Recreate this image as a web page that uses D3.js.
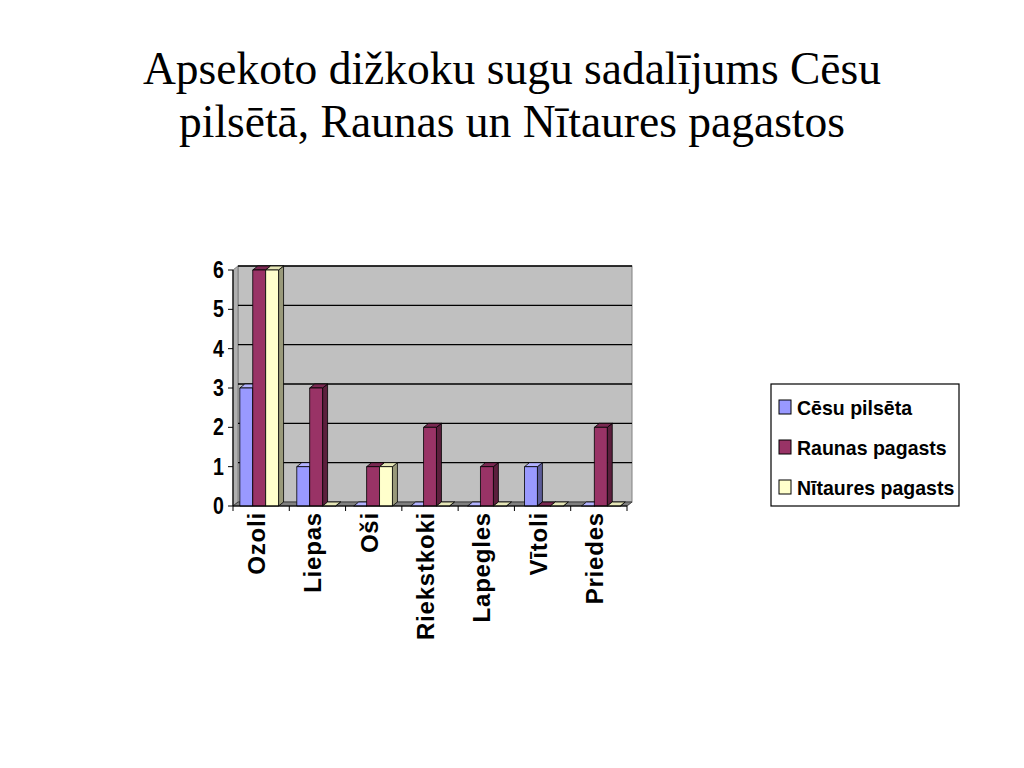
<!DOCTYPE html>
<html><head><meta charset="utf-8">
<script src="https://cdn.jsdelivr.net/npm/d3@7"></script>
<style>body{margin:0;background:#fff;}svg{display:block;}</style>
</head><body>
<svg id="c" width="1024" height="768"></svg>
<script>
const categories = ["Ozoli","Liepas","Oši","Riekstkoki","Lapegles","Vītoli","Priedes"];
const seriesNames = ["Cēsu pilsēta","Raunas pagasts","Nītaures pagasts"];
const cesu = [3,1,0,0,0,1,0];
const raunas = [6,3,1,2,1,0,2];
const nitaures = [6,0,1,0,0,0,0];
const yTicks = [0,1,2,3,4,5,6];
const titleLines = ["Apsekoto dižkoku sugu sadalījums Cēsu","pilsētā, Raunas un Nītaures pagastos"];

const seriesValues = [cesu, raunas, nitaures];
const colors = [
  {front:"#9999FF", top:"#b3b3ff", side:"#5c5c99"},
  {front:"#993366", top:"#7a2952", side:"#5c1f3d"},
  {front:"#FFFFCC", top:"#e6e6b8", side:"#99997a"}
];

const svg = d3.select("#c");
const dx = 5, dy = -4;
const pLeft = 233, pRight = 627, pBottom = 506, pTop = 270;

// title
svg.append("g").selectAll("text").data(titleLines).join("text")
  .attr("x", 512).attr("y", (d,i)=>84 + i*53)
  .attr("text-anchor","middle")
  .attr("font-family","Liberation Serif, Times New Roman, serif")
  .attr("font-size", 45.5).attr("fill","#000").text(d=>d);

const x0 = d3.scaleBand().domain(categories).range([pLeft, pRight]).paddingInner(0.32).paddingOuter(0.12);
const x1 = d3.scaleBand().domain(d3.range(3)).range([0, x0.bandwidth()]);
const y = d3.scaleLinear().domain([0,6]).range([pBottom, pTop]);

// back wall
svg.append("rect").attr("x", pLeft+dx).attr("y", y(6)+dy).attr("width", pRight-pLeft).attr("height", pBottom-y(6))
  .attr("fill","#C0C0C0").attr("stroke","#808080").attr("stroke-width",1);
// left side wall
svg.append("path").attr("d", `M${pLeft},${y(6)}L${pLeft+dx},${y(6)+dy}L${pLeft+dx},${pBottom+dy}L${pLeft},${pBottom}Z`)
  .attr("fill","#b0b0b0").attr("stroke","#808080");
// gridlines
svg.append("g").selectAll("line").data(yTicks.slice(1)).join("line")
  .attr("x1", pLeft+dx).attr("x2", pRight+dx)
  .attr("y1", d=>y(d)+dy).attr("y2", d=>y(d)+dy)
  .attr("stroke","#000").attr("stroke-width",1.3);
// floor
svg.append("path").attr("d", `M${pLeft},${pBottom}L${pRight},${pBottom}L${pRight+dx},${pBottom+dy}L${pLeft+dx},${pBottom+dy}Z`)
  .attr("fill","#808080").attr("stroke","#404040").attr("stroke-width",1);

// bars
const bars = svg.append("g");
categories.forEach((c,ci)=>{
  seriesValues.forEach((vals,si)=>{
    const v = vals[ci];
    const bx = x0(c) + x1(si), bw = x1.bandwidth();
    const yt = y(v), yb = y(0);
    const col = colors[si];
    const g = bars.append("g").attr("stroke","#000").attr("stroke-width",0.8).attr("stroke-linejoin","round");
    g.append("path").attr("d", `M${bx+bw},${yt}L${bx+bw+dx},${yt+dy}L${bx+bw+dx},${yb+dy}L${bx+bw},${yb}Z`).attr("fill", col.side);
    g.append("path").attr("d", `M${bx},${yt}L${bx+dx},${yt+dy}L${bx+bw+dx},${yt+dy}L${bx+bw},${yt}Z`).attr("fill", col.top);
    if (v>0) g.append("rect").attr("x",bx).attr("y",yt).attr("width",bw).attr("height",yb-yt).attr("fill",col.front);
  });
});

// left axis
svg.append("line").attr("x1",pLeft).attr("x2",pLeft).attr("y1",pTop).attr("y2",pBottom).attr("stroke","#000").attr("stroke-width",1.2);
svg.append("g").selectAll("line").data(yTicks).join("line")
  .attr("x1",pLeft-5).attr("x2",pLeft).attr("y1",d=>y(d)).attr("y2",d=>y(d)).attr("stroke","#000");
svg.append("g").selectAll("text").data(yTicks).join("text")
  .attr("transform",d=>`translate(224,${y(d)+8}) scale(0.85,1)`)
  .attr("text-anchor","end")
  .attr("font-family","Liberation Sans, Arial, sans-serif").attr("font-weight","bold")
  .attr("font-size",23).text(d=>d);

// bottom axis
svg.append("line").attr("x1",pLeft).attr("x2",pRight).attr("y1",pBottom).attr("y2",pBottom).attr("stroke","#000").attr("stroke-width",1.2);
const tickXs = categories.map((c,i)=>pLeft + i*(pRight-pLeft)/categories.length).concat([pRight]);
svg.append("g").selectAll("line").data(tickXs).join("line")
  .attr("x1",d=>d).attr("x2",d=>d).attr("y1",pBottom).attr("y2",pBottom+5).attr("stroke","#000");
svg.append("g").selectAll("text").data(categories).join("text")
  .attr("transform",(d,i)=>{const cx = pLeft + (i+0.5)*(pRight-pLeft)/categories.length; return `translate(${cx+4},512) rotate(-90)`;})
  .attr("text-anchor","end")
  .attr("font-family","Liberation Sans, Arial, sans-serif").attr("font-weight","bold")
  .attr("letter-spacing",0.8)
  .attr("font-size",24).text(d=>d);

// legend
const lg = svg.append("g");
lg.append("rect").attr("x",771).attr("y",384).attr("width",188).attr("height",122)
  .attr("fill","#fff").attr("stroke","#000").attr("stroke-width",1.2);
seriesNames.forEach((n,i)=>{
  const cy = 407 + i*40;
  lg.append("rect").attr("x",779).attr("y",cy-7).attr("width",12).attr("height",14)
    .attr("fill",colors[i].front).attr("stroke","#000").attr("stroke-width",1);
  lg.append("text").attr("transform",`translate(797,${cy+8}) scale(0.93,1)`)
    .attr("font-family","Liberation Sans, Arial, sans-serif").attr("font-weight","bold")
    .attr("font-size",21).text(n);
});
</script>
</body></html>
